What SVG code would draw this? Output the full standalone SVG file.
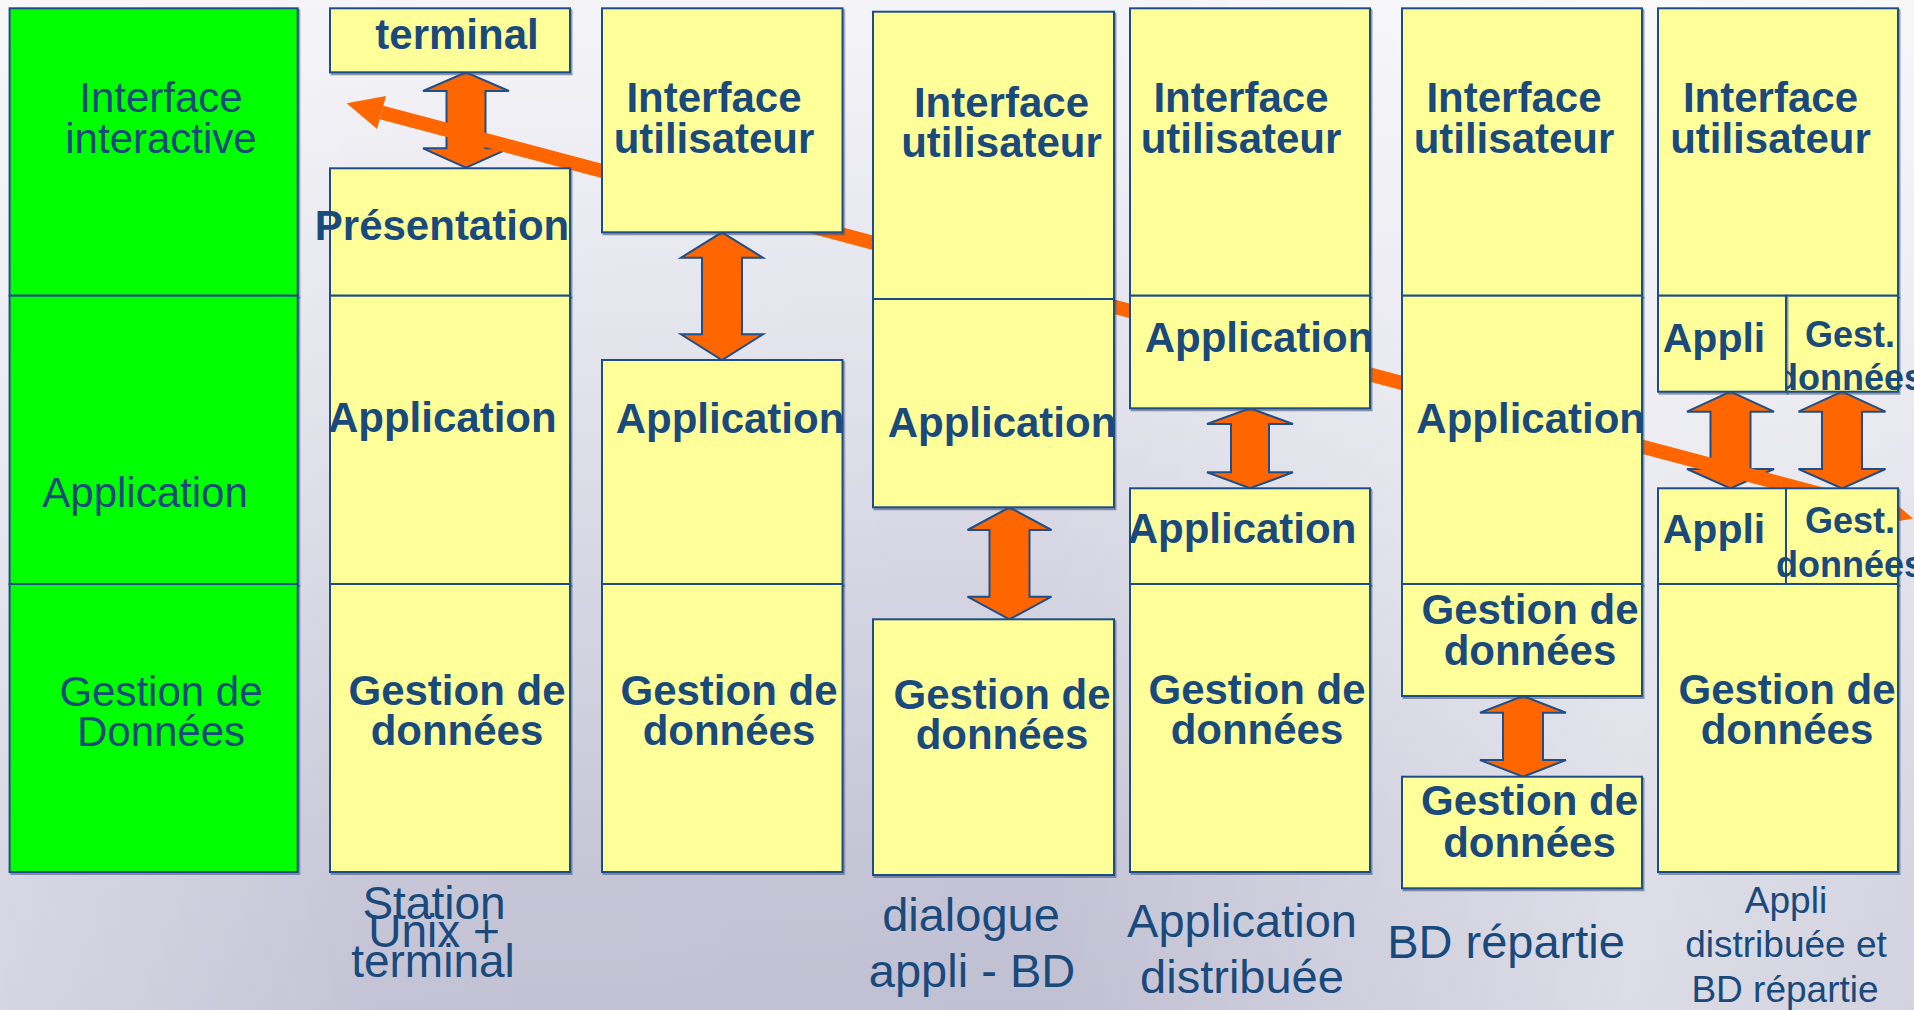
<svg xmlns="http://www.w3.org/2000/svg" width="1914" height="1010" viewBox="0 0 1914 1010">
<defs>
<linearGradient id="bgv" x1="0" y1="0" x2="0" y2="1">
<stop offset="0" stop-color="#f4f4f8"/>
<stop offset="0.4" stop-color="#e0e0ea"/>
<stop offset="0.85" stop-color="#c4c4d6"/>
<stop offset="1" stop-color="#c0c0d3"/>
</linearGradient>
<linearGradient id="bgh" x1="0" y1="0" x2="1" y2="0">
<stop offset="0" stop-color="#ffffff" stop-opacity="0.35"/>
<stop offset="0.2" stop-color="#ffffff" stop-opacity="0.05"/>
<stop offset="0.55" stop-color="#ffffff" stop-opacity="0"/>
<stop offset="0.85" stop-color="#ffffff" stop-opacity="0.45"/>
<stop offset="1" stop-color="#ffffff" stop-opacity="0.3"/>
</linearGradient>
<filter id="sh" x="-5%" y="-5%" width="110%" height="110%">
<feDropShadow dx="1.5" dy="2" stdDeviation="0.6" flood-color="#3a4f70" flood-opacity="0.55"/>
</filter>
<style>
.g{fill:#00ff00;stroke:#1f4e88;stroke-width:2;filter:url(#sh)}
.y{fill:#ffff99;stroke:#1f4e88;stroke-width:2;filter:url(#sh)}
.dbl{fill:#ff6600;stroke:#1f4e88;stroke-width:2;stroke-linejoin:miter}
.b{font-family:"Liberation Sans",Arial,sans-serif;font-weight:bold;font-size:42px;fill:#1a4a7c;text-anchor:middle}
.s{font-size:41px}
.xs{font-size:36px}
.r{font-family:"Liberation Sans",Arial,sans-serif;font-size:42px;fill:#1a4a7c;text-anchor:middle}
.lab{font-family:"Liberation Sans",Arial,sans-serif;font-size:47px;fill:#1a4a7c;text-anchor:middle}
.lab2{font-size:37px}
.lab3{font-size:46px}
</style>
</defs>
<rect x="0" y="0" width="1914" height="1010" fill="url(#bgv)"/>
<rect x="0" y="0" width="1914" height="1010" fill="url(#bgh)"/>

<g id="connectors">
<path class="dbl" d="M466,72.3 L509,91 L485.5,91 L485.5,148.3 L509,148.3 L466,167.7 L423,148.3 L446.5,148.3 L446.5,91 L423,91 Z"/>
<path class="dbl" d="M722,232.3 L763,257.7 L742,257.7 L742,334.3 L763,334.3 L722,360 L681,334.3 L702,334.3 L702,257.7 L681,257.7 Z"/>
<path class="dbl" d="M1009.5,507.3 L1051.5,530 L1029.5,530 L1029.5,596.7 L1051.5,596.7 L1009.5,619.3 L967.5,596.7 L989.5,596.7 L989.5,530 L967.5,530 Z"/>
<path class="dbl" d="M1250,408.3 L1293,424 L1269,424 L1269,472.3 L1293,472.3 L1250,488.3 L1207,472.3 L1231,472.3 L1231,424 L1207,424 Z"/>
<path class="dbl" d="M1523,696 L1566,712.7 L1543,712.7 L1543,760 L1566,760 L1523,776.7 L1480,760 L1503,760 L1503,712.7 L1480,712.7 Z"/>
<path class="dbl" d="M1730.5,391.7 L1774,411.7 L1750.5,411.7 L1750.5,469 L1774,469 L1730.5,488.3 L1687,469 L1710.5,469 L1710.5,411.7 L1687,411.7 Z"/>
<path class="dbl" d="M1842,391.7 L1885.5,411.7 L1862,411.7 L1862,469 L1885.5,469 L1842,488.3 L1798.5,469 L1822,469 L1822,411.7 L1798.5,411.7 Z"/>
<line x1="381.5" y1="112.5" x2="1878.2" y2="509.2" stroke="#ff6600" stroke-width="14"/>
<polygon points="346.7,103.3 386,96.1 377.1,128.9" fill="#ff6600"/>
<polygon points="1913,518.4 1882.6,492.8 1873.8,525.6" fill="#ff6600"/>
</g>

<g id="n-green-interface"><rect class="g" x="9.6" y="8.3" width="288.1" height="287.4"/>
<text class="r" x="161" y="111.7">Interface</text><text class="r" x="161" y="153.3">interactive</text></g>
<g id="n-green-application"><rect class="g" x="9.6" y="295.7" width="288.1" height="288.3"/>
<text class="r" x="145" y="507">Application</text></g>
<g id="n-green-donnees"><rect class="g" x="9.6" y="584" width="288.1" height="288"/>
<text class="r" x="161" y="706">Gestion de</text><text class="r" x="161" y="746">Données</text></g>

<g id="n-c2-terminal"><rect class="y" x="330" y="8.3" width="240" height="64"/>
<text class="b" x="457" y="49">terminal</text></g>
<g id="n-c2-presentation"><rect class="y" x="330" y="168.3" width="240" height="127.4"/>
<text class="b" x="442" y="240">Présentation</text></g>
<g id="n-c2-application"><rect class="y" x="330" y="295.7" width="240" height="288.3"/>
<text class="b" x="442.3" y="431.7">Application</text></g>
<g id="n-c2-donnees"><rect class="y" x="330" y="584" width="240" height="288"/>
<text class="b" x="457" y="705">Gestion de</text><text class="b" x="457" y="745">données</text></g>

<g id="n-c3-interface"><rect class="y" x="602" y="8.3" width="240.5" height="224"/>
<text class="b" x="714" y="111.7">Interface</text><text class="b" x="714" y="153">utilisateur</text></g>
<g id="n-c3-application"><rect class="y" x="602" y="360" width="240.5" height="224"/>
<text class="b" x="730" y="432.7">Application</text></g>
<g id="n-c3-donnees"><rect class="y" x="602" y="584" width="240.5" height="288"/>
<text class="b" x="729" y="705">Gestion de</text><text class="b" x="729" y="745">données</text></g>

<g id="n-c4-interface"><rect class="y" x="873" y="11.7" width="241" height="287.3"/>
<text class="b" x="1001.5" y="116.7">Interface</text><text class="b" x="1001.5" y="156.7">utilisateur</text></g>
<g id="n-c4-application"><rect class="y" x="873" y="299" width="241" height="208.3"/>
<text class="b" x="1002" y="436.7">Application</text></g>
<g id="n-c4-donnees"><rect class="y" x="873" y="619.3" width="241" height="255.7"/>
<text class="b" x="1002" y="709">Gestion de</text><text class="b" x="1002" y="749">données</text></g>

<g id="n-c5-interface"><rect class="y" x="1130" y="8.3" width="240" height="287.4"/>
<text class="b" x="1241" y="111.7">Interface</text><text class="b" x="1241" y="153">utilisateur</text></g>
<g id="n-c5-application1"><rect class="y" x="1130" y="295.7" width="240" height="112.6"/>
<text class="b" x="1259" y="352">Application</text></g>
<g id="n-c5-application2"><rect class="y" x="1130" y="488.3" width="240" height="95.7"/>
<text class="b" x="1242" y="543.3">Application</text></g>
<g id="n-c5-donnees"><rect class="y" x="1130" y="584" width="240" height="288"/>
<text class="b" x="1257" y="704">Gestion de</text><text class="b" x="1257" y="744">données</text></g>

<g id="n-c6-interface"><rect class="y" x="1402" y="8.3" width="240" height="287.4"/>
<text class="b" x="1514" y="111.7">Interface</text><text class="b" x="1514" y="153">utilisateur</text></g>
<g id="n-c6-application"><rect class="y" x="1402" y="295.7" width="240" height="288.3"/>
<text class="b" x="1530.7" y="432.7">Application</text></g>
<g id="n-c6-donnees1"><rect class="y" x="1402" y="584" width="240" height="112"/>
<text class="b" x="1530" y="624">Gestion de</text><text class="b" x="1530" y="665">données</text></g>
<g id="n-c6-donnees2"><rect class="y" x="1402" y="776.7" width="240" height="111.6"/>
<text class="b" x="1529.5" y="815">Gestion de</text><text class="b" x="1529.5" y="856.7">données</text></g>

<g id="n-c7-interface"><rect class="y" x="1658" y="8.3" width="240" height="287.4"/>
<text class="b" x="1770.5" y="111.7">Interface</text><text class="b" x="1770.5" y="153">utilisateur</text></g>
<g id="n-c7-gest1"><rect class="y" x="1786" y="295.7" width="112" height="96"/>
<text class="b xs" x="1850" y="346.7">Gest.</text><text class="b xs" x="1850" y="390">données</text></g>
<g id="n-c7-appli1"><rect class="y" x="1658" y="295.7" width="128" height="96"/>
<text class="b s" x="1714" y="351.7">Appli</text></g>
<g id="n-c7-appli2"><rect class="y" x="1658" y="488.3" width="128" height="95.7"/>
<text class="b s" x="1714" y="543.3">Appli</text></g>
<g id="n-c7-gest2"><rect class="y" x="1786" y="488.3" width="112" height="95.7"/>
<text class="b xs" x="1850" y="533.3">Gest.</text><text class="b xs" x="1850" y="576.7">données</text></g>
<g id="n-c7-donnees"><rect class="y" x="1658" y="584" width="240" height="288"/>
<text class="b" x="1787" y="704">Gestion de</text><text class="b" x="1787" y="744">données</text></g>

<g id="labels">
<text class="lab lab3" x="434" y="919">Station</text>
<text class="lab lab3" x="434" y="947">Unix +</text>
<text class="lab lab3" x="433" y="977">terminal</text>
<text class="lab" x="971" y="931">dialogue</text>
<text class="lab" x="972" y="987">appli - BD</text>
<text class="lab" x="1242" y="937">Application</text>
<text class="lab" x="1242" y="993">distribuée</text>
<text class="lab" x="1506" y="958">BD répartie</text>
<text class="lab lab2" x="1786" y="913">Appli</text>
<text class="lab lab2" x="1786" y="957">distribuée et</text>
<text class="lab lab2" x="1785" y="1001.7">BD répartie</text>
</g>
</svg>
